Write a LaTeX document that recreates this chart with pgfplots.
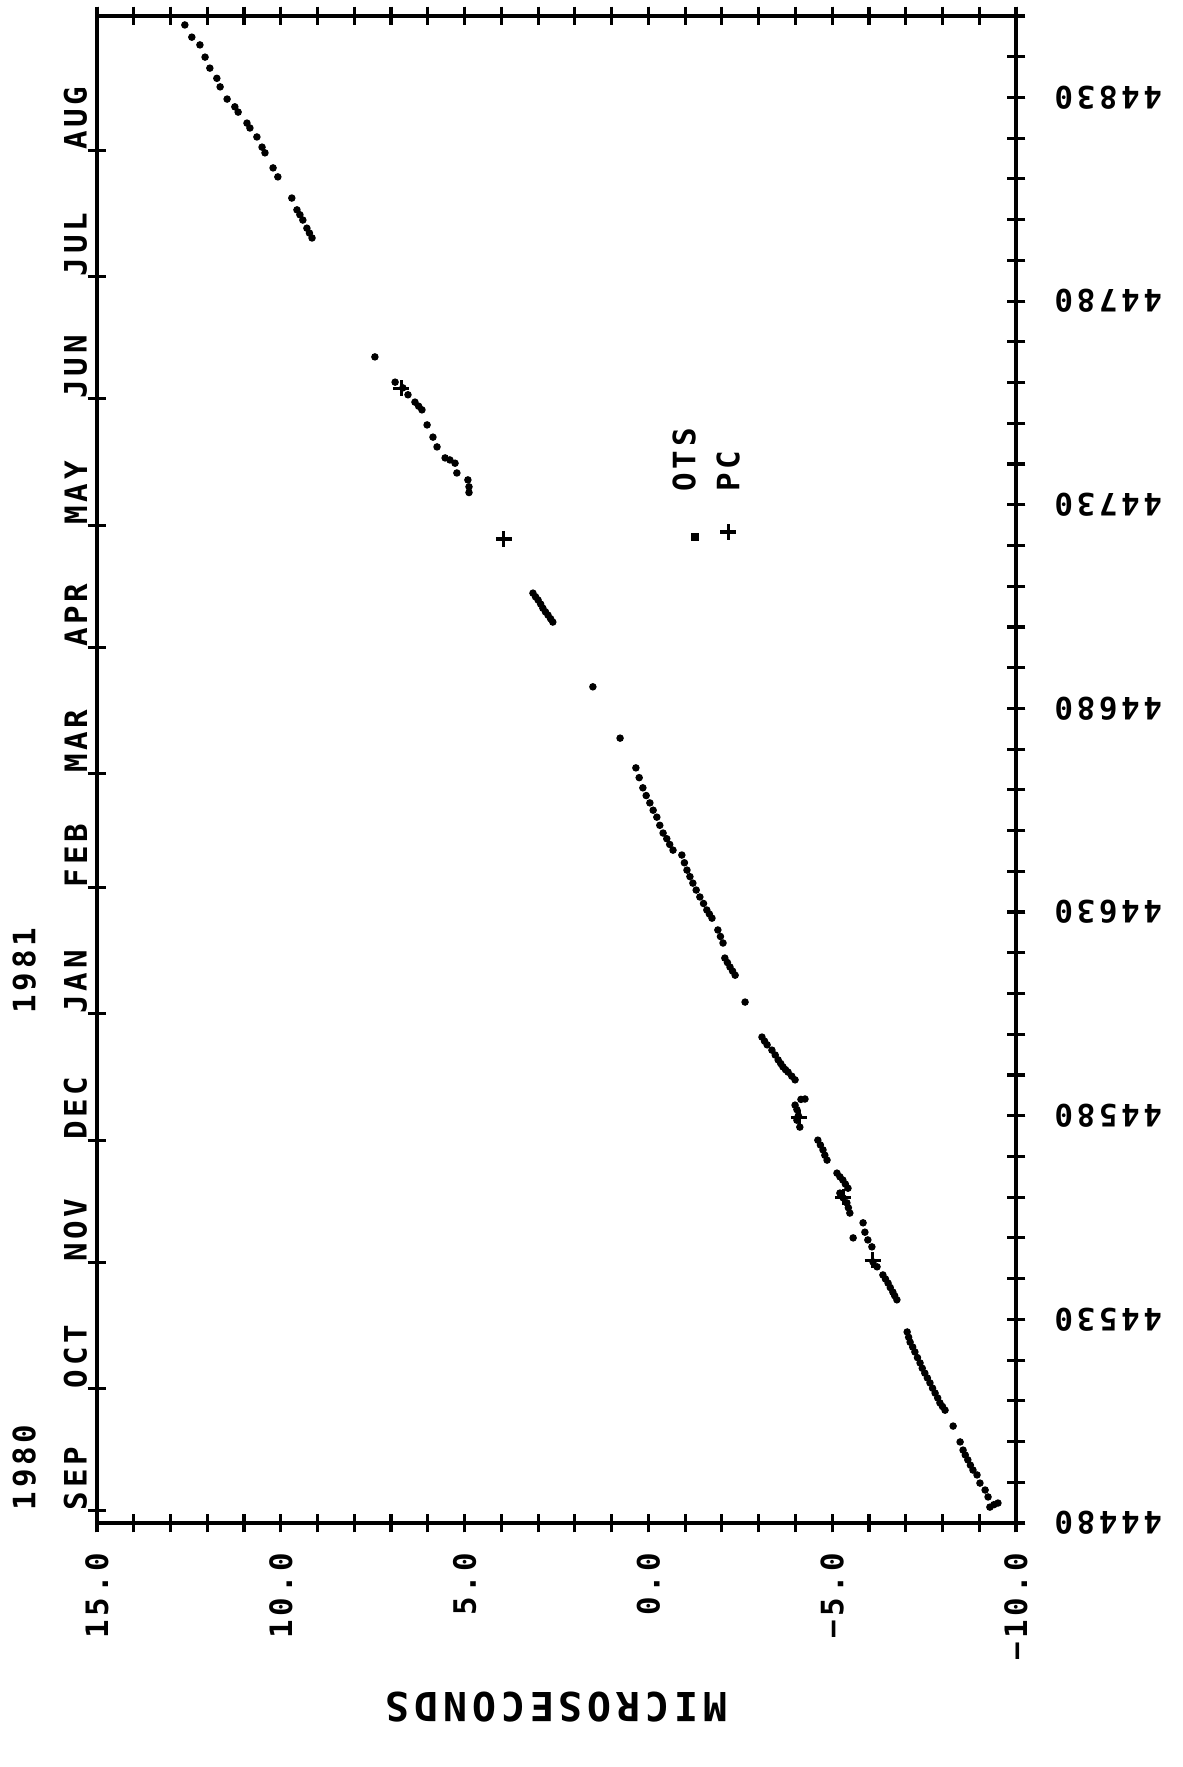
\documentclass[border=0pt]{standalone}
\usepackage{fontspec}
\setmainfont{DejaVu Sans Mono}[LetterSpace=12]
\usepackage{pgfplots}
\pgfplotsset{compat=1.18}

\begin{document}
\begin{tikzpicture}
\pgfplotsset{
  frame/.style={
    at={(0,0)}, anchor=south west,
    scale only axis, width=321.65pt, height=527.45pt,
    xmin=-10, xmax=15, x dir=reverse,
    ymin=44480, ymax=44850,
    scaled y ticks=false,
    axis line style={line width=1.1pt},
    tick align=center,
    major tick length=6.5pt, minor tick length=6.5pt,
    every tick/.style={black, line width=1.1pt},
    tick label style={font=\fontsize{10.8pt}{18pt}\selectfont\bfseries, inner sep=0pt},
    clip=false,
  },
}
\begin{axis}[frame,
  xtick={-10,-5,0,5,10,15}, minor xtick={-10,-9,...,15},
  xticklabels={−10.0,−5.0,0.0,5.0,10.0,15.0},
  xticklabel style={rotate=90, anchor=east},
  xticklabel shift=7pt,
  ytick={44480,44530,44580,44630,44680,44730,44780,44830},
  yticklabels={44480,44530,44580,44630,44680,44730,44780,44830},
  minor ytick={44480,44490,44500,44510,44520,44530,44540,44550,44560,44570,44580,44590,44600,44610,44620,44630,44640,44650,44660,44670,44680,44690,44700,44710,44720,44730,44740,44750,44760,44770,44780,44790,44800,44810,44820,44830,44840,44850},
  ytick pos=right, yticklabel pos=right,
  yticklabel style={rotate=180, anchor=east},
  yticklabel shift=10pt,
  xlabel={MICROSECONDS},
  xlabel style={at={(axis description cs:0.5,0)}, yshift=-64.5pt, anchor=center, rotate=180,
    font=\fontsize{14pt}{16pt}\selectfont\bfseries, inner sep=0pt},
]
% OTS readings (microseconds, MJD)
\addplot[only marks, mark=*, mark size=1.1pt, black] coordinates {
(-9.51,44484.9) (-9.40,44484.5) (-9.29,44483.9) (-9.24,44486.4) (-9.16,44488.1) (-9.02,44489.8)
(-8.94,44491.8) (-8.83,44493.0) (-8.76,44494.2) (-8.69,44495.5) (-8.62,44496.7) (-8.56,44497.9)
(-8.48,44499.9) (-8.29,44503.8) (-8.07,44507.7) (-8.00,44508.6) (-7.93,44509.5) (-7.87,44510.7)
(-7.80,44511.9) (-7.73,44513.1) (-7.66,44514.4) (-7.59,44515.6) (-7.52,44516.8) (-7.45,44518.0)
(-7.39,44519.3) (-7.32,44520.6) (-7.25,44522.0) (-7.19,44523.2) (-7.12,44524.4) (-7.08,44525.6)
(-7.04,44526.9)
(-6.76,44534.8) (-6.70,44535.8) (-6.65,44536.7) (-6.58,44537.8) (-6.52,44538.9) (-6.45,44539.9)
(-6.38,44540.9) (-6.22,44542.9) (-6.11,44544.1) (-6.08,44547.8) (-5.97,44549.5) (-5.57,44550.0)
(-5.89,44551.4) (-5.84,44553.7)
(-5.48,44556.1) (-5.44,44557.4) (-5.40,44558.6) (-5.30,44559.8) (-5.21,44561.0) (-5.43,44562.2)
(-5.36,44563.2) (-5.29,44564.2) (-5.21,44565.0) (-5.13,44565.9)
(-4.86,44569.1) (-4.80,44570.3) (-4.75,44571.6) (-4.68,44572.8) (-4.61,44574.0)
(-4.12,44577.2) (-4.04,44578.9) (-4.08,44580.0) (-4.04,44581.5) (-3.99,44582.6) (-4.15,44584.0)
(-4.26,44584.1)
(-3.99,44588.8) (-3.90,44589.7) (-3.80,44590.7) (-3.73,44591.3) (-3.66,44592.0) (-3.60,44592.8)
(-3.53,44593.7) (-3.45,44594.9) (-3.36,44596.1) (-3.23,44597.4) (-3.16,44598.3) (-3.09,44599.3)
(-2.63,44607.9)
(-2.36,44614.5) (-2.29,44615.5) (-2.22,44616.5) (-2.15,44617.6) (-2.08,44618.7)
(-2.03,44622.4) (-1.96,44624.0) (-1.89,44625.6)
(-1.73,44628.5) (-1.66,44629.5) (-1.59,44630.5) (-1.50,44632.1) (-1.40,44633.7) (-1.30,44635.4)
(-1.21,44637.1) (-1.13,44638.7) (-1.05,44640.3) (-0.98,44642.1) (-0.91,44644.0)
(-0.67,44645.2) (-0.58,44646.6) (-0.50,44648.0) (-0.40,44649.4) (-0.31,44651.3) (-0.23,44653.3)
(-0.13,44655.0) (-0.04,44656.8) (0.06,44658.6) (0.15,44660.5) (0.25,44663.0) (0.34,44665.4)
(0.77,44672.7)
(1.51,44685.3)
(2.60,44701.2) (2.66,44702.0) (2.73,44702.9) (2.80,44703.7) (2.87,44704.6) (2.93,44705.6)
(3.00,44706.6) (3.07,44707.4) (3.14,44708.3)
(4.88,44733.0) (4.88,44734.4) (4.91,44736.1) (5.21,44737.8) (5.26,44740.2) (5.40,44741.0)
(5.53,44741.5) (5.75,44744.2) (5.86,44746.6) (6.02,44749.6) (6.16,44753.3) (6.25,44754.2)
(6.35,44755.2) (6.54,44757.0) (6.68,44758.7) (6.89,44760.1) (7.44,44766.3)
(9.15,44795.5) (9.22,44796.7) (9.29,44797.9) (9.40,44799.9) (9.48,44801.2) (9.56,44802.4)
(9.70,44805.3) (10.08,44810.5) (10.21,44812.7) (10.43,44816.4) (10.51,44817.8) (10.65,44820.3)
(10.84,44822.5) (10.92,44823.7) (11.16,44826.4) (11.25,44827.7) (11.46,44829.6) (11.65,44832.6)
(11.74,44834.7) (11.93,44837.2) (12.06,44839.9) (12.20,44842.9) (12.42,44844.8) (12.61,44847.8)
};
% PC readings
\addplot[only marks, mark=+, mark size=2.8pt, line width=1.1pt, black] coordinates {
(6.72,44758.6) (3.93,44721.6) (-4.10,44579.5) (-5.30,44560.0) (-6.10,44544.5)
};
% key, drawn on its side like the rest of the sheet
\addplot[only marks, mark=square*, mark size=1.2pt, black, forget plot] coordinates {(-1.27,44722.1)};
\addplot[only marks, mark=+, mark size=2.8pt, line width=1.1pt, black, forget plot] coordinates {(-2.17,44723.3)};
\node[rotate=90, anchor=west, inner sep=0pt, font=\fontsize{10.8pt}{13pt}\selectfont\bfseries]
  at (axis cs:-0.97,44733.1) {OTS};
\node[rotate=90, anchor=west, inner sep=0pt, font=\fontsize{10.8pt}{13pt}\selectfont\bfseries]
  at (axis cs:-2.17,44733.1) {PC};
\end{axis}

% month ticks on the left edge
\begin{axis}[frame,
  hide x axis, axis y line*=left,
  ytick={44483,44513,44544,44574,44605,44636,44664,44695,44725,44756,44786,44817},
  yticklabels={{1980\\SEP},OCT,NOV,DEC,{1981\\JAN},FEB,MAR,APR,MAY,JUN,JUL,AUG},
  yticklabel style={rotate=90, anchor=south west, align=left},
  yticklabel shift=0pt,
]
\end{axis}

\pgfresetboundingbox
\path (-33.95pt,-85.4pt) rectangle (380.1pt,533.05pt);
\end{tikzpicture}
\end{document}
